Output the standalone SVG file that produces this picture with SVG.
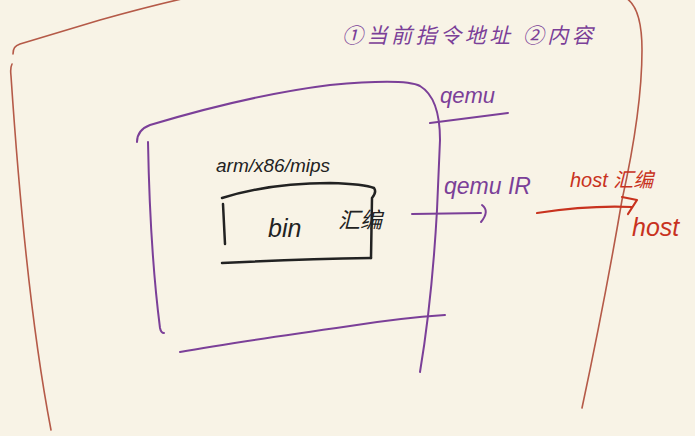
<svg xmlns="http://www.w3.org/2000/svg" width="695" height="436" viewBox="0 0 695 436">
<style>
.bg{fill:#f8f3e6}
.brown{fill:none;stroke:#b55a48;stroke-width:1.6;stroke-linecap:round}
.pur{fill:none;stroke:#7b3f98;stroke-width:2;stroke-linecap:round;stroke-linejoin:round}
.blk{fill:none;stroke:#222;stroke-width:2.5;stroke-linecap:round;stroke-linejoin:round}
.red{fill:none;stroke:#c8321e;stroke-width:2.2;stroke-linecap:round;stroke-linejoin:round}
.t{font-family:"Liberation Sans","Noto Sans CJK SC",sans-serif;font-style:italic}
.tp{fill:#7b3f98}
.tb{fill:#222}
.tr{fill:#c8321e}
</style>
<rect class="bg" x="0" y="0" width="695" height="436"/>
<g id="host-frame">
<path class="brown" d="M13,54 C13,48 15,46 20,44 L100,20 Q150,6 186,-2"/>
<path class="brown" d="M12,64 Q10,68 11,76 Q26,300 51,430"/>
<path class="brown" d="M626,-2 Q642,8 642,50 Q642,110 622,200 Q605,300 582,408"/>
</g>
<g id="qemu-frame">
<path class="pur" d="M137,142 Q137,130 150,125 Q250,95 330,85 Q405,78 420,86 Q440,98 440,140 L437,210 Q432,300 420,372"/>
<path class="pur" d="M148,142 Q150,250 160,328 Q161,333 164,333"/>
<path class="pur" d="M180,352 Q230,343 350,326 Q400,318 445,315"/>
<path class="pur" d="M430,123 L508,113"/>
<text class="t tp" x="440" y="103" font-size="22">qemu</text>
</g>
<g id="bin-box">
<path class="blk" d="M222,198 Q270,183 330,183 Q365,184 374,188 Q377,192 372,198 L371,258"/>
<path class="blk" d="M223,204 L225,244"/>
<path class="blk" d="M222,263 Q300,259 371,258"/>
<text class="t tb" x="216" y="172" font-size="19">arm/x86/mips</text>
<text class="t tb" x="268" y="237" font-size="25">bin</text>
<text class="t tb" x="338" y="228" font-size="22">汇编</text>
</g>
<g id="qemu-ir">
<text class="t tp" x="444" y="194" font-size="23">qemu IR</text>
</g>
<g id="host">
<text class="t tr" x="570" y="187" font-size="20">host 汇编</text>
<text class="t tr" x="632" y="236" font-size="25">host</text>
</g>
<g id="notes">
<text class="t tp" x="342" y="43" font-size="21" letter-spacing="3.5">①当前指令地址 ②内容</text>
</g>
<g id="connectors">
<path class="pur" d="M412,214 L481,213"/>
<path class="pur" d="M482,205 Q490,211 481,222"/>
<path class="red" d="M537,213 Q590,205 632,207"/>
<path class="red" d="M622,197 L637,200 L628,214"/>
</g>
</svg>
